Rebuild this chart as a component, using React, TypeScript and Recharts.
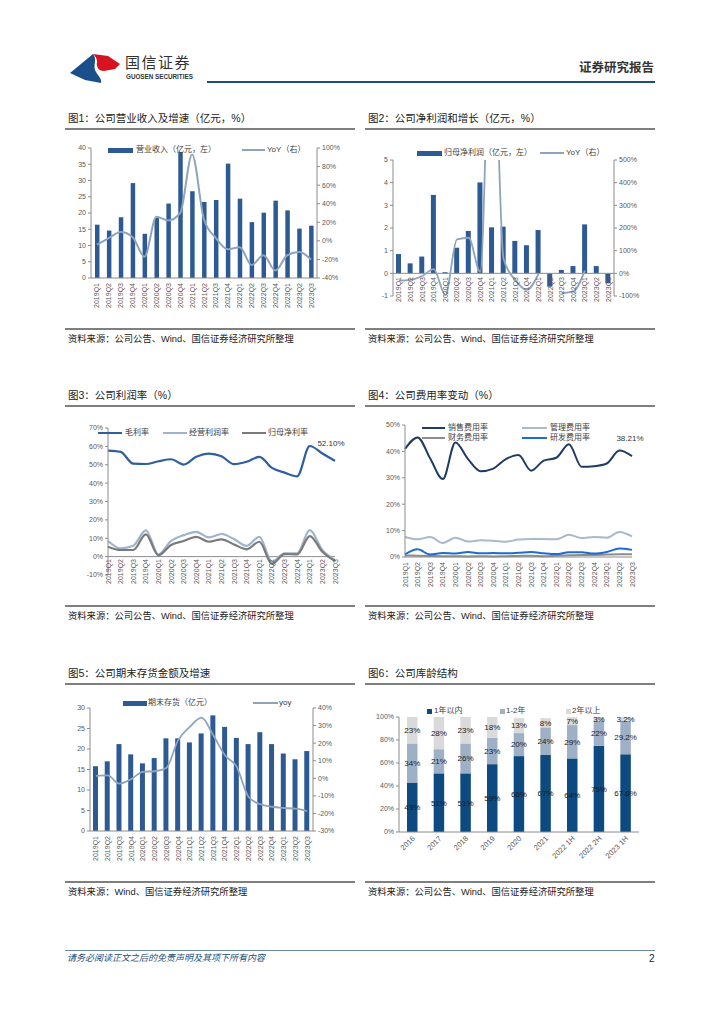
import React from "react";
import { ComposedChart, Bar, Line, XAxis, YAxis, ReferenceLine, LabelList } from "recharts";

const FONT = '"Liberation Sans", "Noto Sans CJK SC", sans-serif';
const AX = "#8c8c8c";
const TXT = "#595959";
const BAR = "#2e5a94";
const YOY = "#8ea4bc";

const quarters = [
  "2019Q1", "2019Q2", "2019Q3", "2019Q4", "2020Q1", "2020Q2", "2020Q3", "2020Q4",
  "2021Q1", "2021Q2", "2021Q3", "2021Q4", "2022Q1", "2022Q2", "2022Q3", "2022Q4",
  "2023Q1", "2023Q2", "2023Q3",
];

// fig 1: revenue (亿元) and yoy (%)
const revenue = [16.4, 14.6, 18.7, 29.2, 13.6, 18.5, 22.9, 38.8, 26.7, 23.4, 24.0, 35.2, 24.4, 17.2, 20.1, 23.8, 20.8, 15.2, 16.1];
const revenueYoy = [-4, 3, 9.5, 4, -17, 26, 22, 30, 93, 23, 3, -9, -7, -26, -15.5, -32, -15.5, -12, -20];
const revLeftTicks = [0, 5, 10, 15, 20, 25, 30, 35, 40];
const revRightTicks = [-40, -20, 0, 20, 40, 60, 80, 100];

// fig 2: net profit (亿元) and yoy (%)
const netProfit = [0.85, 0.44, 0.74, 3.46, 0.05, 1.13, 1.87, 4.01, 2.03, 2.06, 1.43, 1.24, 1.91, -0.59, 0.15, 0.32, 2.16, 0.32, -0.44];
const netProfitYoy = [-32, -29, -12, 19, -96, 150, 157, 7, 1300, 65, -29, -73, -3, null, -88, -80, 13, null, null];
const npLeftTicks = [-1, 0, 1, 2, 3, 4, 5];
const npRightTicks = [-100, 0, 100, 200, 300, 400, 500];

// fig 3: margins (%)
const grossMargin = [57.7, 57.0, 50.6, 50.4, 51.9, 53.0, 50.1, 54.3, 56.1, 54.6, 50.3, 51.6, 54.3, 48.3, 45.7, 43.7, 60.2, 56.1, 52.1];
const opMargin = [8.5, 4.5, 5.9, 14.3, 1.2, 8.6, 11.7, 13.5, 10.5, 12.3, 9.5, 5.9, 10.8, -2.8, 1.8, 1.8, 14.4, 3.6, -1.9];
const netMargin = [5.4, 3.6, 3.6, 12.1, 0.7, 6.3, 8.5, 10.8, 8.1, 9.4, 6.6, 4.0, 8.1, -4.0, 1.4, 1.2, 11.2, 2.7, -2.4];
const marginTicks = [-10, 0, 10, 20, 30, 40, 50, 60, 70];

// fig 4: expense ratios (%)
const sellingRate = [40.9, 45.3, 37.3, 29.5, 43.4, 37.1, 32.5, 33.5, 37.1, 38.6, 32.7, 36.5, 37.6, 42.7, 34.2, 34.4, 35.4, 40.3, 38.21];
const adminRate = [7.6, 6.7, 7.6, 5.3, 7.3, 5.9, 6.3, 6.2, 5.8, 6.6, 6.8, 6.8, 6.7, 8.4, 7.2, 7.6, 7.3, 9.5, 7.8];
const financeRate = [0.6, 0.5, 0.4, 0.3, 0.3, 0.2, 0.3, 0.2, 0.3, 0.4, 0.5, 0.3, 0.5, 0.7, 0.8, 0.8, 0.9, 1.0, 1.0];
const rdRate = [1.0, 2.9, 0.9, 1.5, 1.3, 1.9, 1.4, 1.5, 1.4, 1.6, 1.9, 1.4, 1.1, 1.8, 1.8, 1.3, 1.9, 3.2, 2.7];
const expenseTicks = [0, 10, 20, 30, 40, 50];

// fig 5: inventory (亿元) and yoy (%)
const inventory = [15.8, 17.0, 21.2, 18.7, 16.5, 17.8, 22.6, 22.6, 21.6, 23.8, 28.2, 25.4, 22.7, 21.2, 24.1, 21.2, 18.9, 17.5, 19.5];
const inventoryYoy = [1.4, 1.6, -3.0, -0.5, 3.7, 4.0, 5.9, 21.6, 29.2, 34.5, 24.5, 13.1, 6.5, -10.5, -14.7, -16.2, -16.9, -17.3, -18.7];
const invLeftTicks = [0, 5, 10, 15, 20, 25, 30];
const invRightTicks = [-30, -20, -10, 0, 10, 20, 30, 40];

// fig 6: inventory age structure (%)
const agePeriods = ["2016", "2017", "2018", "2019", "2020", "2021", "2022 1H", "2022 2H", "2023 1H"];
const within1y = [43, 51, 51, 59, 66, 67, 64, 75, 67.6];
const oneTo2y = [34, 21, 26, 23, 20, 24, 29, 22, 29.2];
const over2y = [23, 28, 23, 18, 13, 8, 7, 3, 3.2];
const ageTicks = [0, 20, 40, 60, 80, 100];

const fig1 = quarters.map((q, i) => ({ q, rev: revenue[i], yoy: revenueYoy[i] }));
const fig2 = quarters.map((q, i) => ({ q, np: netProfit[i], yoy: netProfitYoy[i] }));
const fig3 = quarters.map((q, i) => ({ q, gross: grossMargin[i], op: opMargin[i], net: netMargin[i] }));
const fig4 = quarters.map((q, i) => ({ q, sell: sellingRate[i], admin: adminRate[i], fin: financeRate[i], rd: rdRate[i] }));
const fig5 = quarters.map((q, i) => ({ q, inv: inventory[i], yoy: inventoryYoy[i] }));
const fig6 = agePeriods.map((p, i) => ({ p, a: within1y[i], b: oneTo2y[i], c: over2y[i] }));

const pct = (v: number) => `${v}%`;
const tickStyle = { fontSize: 7, fill: TXT, fontFamily: FONT };

function VTick(props: any) {
  const { x, y, payload, shift = 0 } = props;
  return (
    <text
      transform={`translate(${x},${y + shift}) rotate(-90)`}
      textAnchor="end"
      dominantBaseline="central"
      fontSize={7}
      fill={TXT}
      fontFamily={FONT}
    >
      {payload.value}
    </text>
  );
}

function SlantTick(props: any) {
  const { x, y, payload } = props;
  return (
    <text transform={`translate(${x + 3},${y + 2}) rotate(-45)`} textAnchor="end" fontSize={7.5} fill={TXT} fontFamily={FONT}>
      {payload.value}
    </text>
  );
}

function lastLabel(count: number, dx: number, dy: number) {
  return (p: any) => {
    if (p.index !== count - 1) return null;
    return (
      <text x={p.x + dx} y={p.y + dy} textAnchor="middle" fontSize={8} fill="#333" fontFamily={FONT}>
        {Number(p.value).toFixed(2)}%
      </text>
    );
  };
}

type LegItem = { label: string; kind: "bar" | "line" | "square"; color: string; x: number; y: number; w?: number; tx: number };

function Leg({ items }: { items: LegItem[] }) {
  return (
    <>
      {items.map((it) => (
        <React.Fragment key={it.label}>
          <div
            style={{
              position: "absolute",
              left: it.x,
              top: it.kind === "line" ? it.y - 1.2 : it.y - 2.5,
              width: it.kind === "square" ? 5 : it.w ?? 24,
              height: it.kind === "line" ? 2.4 : 5,
              background: it.color,
            }}
          />
          <div
            style={{
              position: "absolute",
              left: it.tx,
              top: it.y - 6,
              height: 12,
              lineHeight: "12px",
              fontSize: 8,
              color: "#404040",
              whiteSpace: "nowrap",
              fontFamily: FONT,
            }}
          >
            {it.label}
          </div>
        </React.Fragment>
      ))}
    </>
  );
}

function Frame({ left, top, title, bottom, source }: { left: number; top: number; title: string; bottom: number; source: string }) {
  return (
    <>
      <div style={{ position: "absolute", left: left + 3, top: top - 8, fontSize: 10.5, lineHeight: "14px", color: "#222", fontFamily: FONT, whiteSpace: "nowrap" }}>
        {title}
      </div>
      <div style={{ position: "absolute", left, top: top + 9, width: 290, height: 1.5, background: "#7f7f7f" }} />
      <div style={{ position: "absolute", left, top: bottom, width: 290, height: 1.5, background: "#7f7f7f" }} />
      <div style={{ position: "absolute", left: left + 3, top: bottom + 5, fontSize: 9.3, lineHeight: "13px", color: "#222", fontFamily: FONT, whiteSpace: "nowrap" }}>
        {source}
      </div>
    </>
  );
}

const SRC = "资料来源：公司公告、Wind、国信证券经济研究所整理";

export default function App() {
  return (
    <div style={{ position: "absolute", left: 0, top: 0, width: 724, height: 1024, background: "#fff", fontFamily: FONT }}>
      {/* header */}
      <svg style={{ position: "absolute", left: 68, top: 52 }} width={56} height={34}>
        <path d="M2,21 L25,2 C30,8 24,14 28,20 C31,25 34,27 33,31 L17,28 Z" fill="#1b4f8a" />
        <path d="M25,2 L40,4 L52,12 L47,17 L36,19 C30,19 28,14 29,10 C29,6 27,4 25,2 Z" fill="#d7141e" />
      </svg>
      <div style={{ position: "absolute", left: 125, top: 53, fontSize: 15, lineHeight: "20px", color: "#333", letterSpacing: 1.5 }}>国信证券</div>
      <div style={{ position: "absolute", left: 126, top: 73, fontSize: 6.3, lineHeight: "8px", color: "#333", fontWeight: 700, whiteSpace: "nowrap" }}>
        GUOSEN SECURITIES
      </div>
      <div style={{ position: "absolute", left: 207, top: 81, width: 448, height: 2, background: "#1f4e79" }} />
      <div style={{ position: "absolute", left: 579, top: 60, fontSize: 12.5, lineHeight: "16px", color: "#333", fontWeight: 700, whiteSpace: "nowrap" }}>
        证券研究报告
      </div>

      {/* row 1 */}
      <Frame left={65} top={119} title="图1：公司营业收入及增速（亿元，%）" bottom={328} source={SRC} />
      <Frame left={365} top={119} title="图2：公司净利润和增长（亿元，%）" bottom={328} source={SRC} />

      <div style={{ position: "absolute", left: 65, top: 135 }}>
        <ComposedChart width={290} height={190} data={fig1} margin={{ top: 13, right: 8, bottom: 0, left: 0 }}>
          <XAxis dataKey="q" interval={0} height={47} tickLine={false} tickSize={3} tickMargin={2} axisLine={{ stroke: AX }} tick={<VTick />} />
          <YAxis yAxisId="l" width={26} domain={[0, 40]} ticks={revLeftTicks} tick={tickStyle} tickSize={3} axisLine={{ stroke: AX }} tickLine={{ stroke: AX }} />
          <YAxis yAxisId="r" orientation="right" width={30} domain={[-40, 100]} ticks={revRightTicks} tickFormatter={pct} tick={tickStyle} tickSize={3} axisLine={{ stroke: AX }} tickLine={{ stroke: AX }} />
          <Bar yAxisId="l" dataKey="rev" fill={BAR} barSize={4.5} isAnimationActive={false} />
          <Line yAxisId="r" type="monotone" dataKey="yoy" stroke={YOY} strokeWidth={2} dot={false} isAnimationActive={false} />
        </ComposedChart>
      </div>
      <Leg
        items={[
          { label: "营业收入（亿元，左）", kind: "bar", color: BAR, x: 108, y: 150, w: 25, tx: 136 },
          { label: "YoY（右）", kind: "line", color: YOY, x: 242, y: 150, w: 23, tx: 267 },
        ]}
      />

      <div style={{ position: "absolute", left: 362, top: 140 }}>
        <ComposedChart width={293} height={185} data={fig2} margin={{ top: 20, right: 11, bottom: 0, left: 0 }}>
          <XAxis dataKey="q" interval={0} height={29} tickLine={false} tickSize={3} tickMargin={2} axisLine={false} tick={<VTick shift={-24} />} />
          <YAxis yAxisId="l" width={31} domain={[-1, 5]} ticks={npLeftTicks} tick={tickStyle} tickSize={3} axisLine={{ stroke: AX }} tickLine={{ stroke: AX }} />
          <YAxis yAxisId="r" orientation="right" width={30} domain={[-100, 500]} allowDataOverflow ticks={npRightTicks} tickFormatter={pct} tick={tickStyle} tickSize={3} axisLine={{ stroke: AX }} tickLine={{ stroke: AX }} />
          <ReferenceLine yAxisId="l" y={0} stroke={AX} />
          <Bar yAxisId="l" dataKey="np" fill={BAR} barSize={5} isAnimationActive={false} />
          <Line yAxisId="r" type="monotone" dataKey="yoy" stroke={YOY} strokeWidth={1.8} dot={false} connectNulls={false} isAnimationActive={false} />
        </ComposedChart>
      </div>
      <Leg
        items={[
          { label: "归母净利润（亿元，左）", kind: "bar", color: BAR, x: 417, y: 153, w: 25, tx: 444 },
          { label: "YoY（右）", kind: "line", color: YOY, x: 540, y: 153, w: 24, tx: 566 },
        ]}
      />

      {/* row 2 */}
      <Frame left={65} top={396} title="图3：公司利润率（%）" bottom={605} source={SRC} />
      <Frame left={365} top={396} title="图4：公司费用率变动（%）" bottom={605} source={SRC} />

      <div style={{ position: "absolute", left: 65, top: 410 }}>
        <ComposedChart width={290} height={190} data={fig3} margin={{ top: 18, right: 20, bottom: 0, left: 0 }}>
          <XAxis dataKey="q" interval={0} height={25} tickLine={false} tickSize={3} tickMargin={2} axisLine={false} tick={<VTick shift={-21} />} />
          <YAxis width={43} domain={[-10, 70]} ticks={marginTicks} tickFormatter={pct} tick={tickStyle} tickSize={3} axisLine={{ stroke: AX }} tickLine={{ stroke: AX }} />
          <ReferenceLine y={0} stroke={AX} />
          <Line type="monotone" dataKey="gross" stroke="#2f5f9e" strokeWidth={2.2} dot={false} isAnimationActive={false}>
            <LabelList dataKey="gross" content={lastLabel(quarters.length, -4, -15)} />
          </Line>
          <Line type="monotone" dataKey="op" stroke="#9eb4cc" strokeWidth={2.2} dot={false} isAnimationActive={false} />
          <Line type="monotone" dataKey="net" stroke="#7a7a7a" strokeWidth={2.2} dot={false} isAnimationActive={false} />
        </ComposedChart>
      </div>
      <Leg
        items={[
          { label: "毛利率", kind: "line", color: "#2f5f9e", x: 98, y: 433, w: 24, tx: 125 },
          { label: "经营利润率", kind: "line", color: "#9eb4cc", x: 163, y: 433, w: 24, tx: 189 },
          { label: "归母净利率", kind: "line", color: "#7a7a7a", x: 242, y: 433, w: 24, tx: 268 },
        ]}
      />

      <div style={{ position: "absolute", left: 362, top: 410 }}>
        <ComposedChart width={293} height={182} data={fig4} margin={{ top: 15, right: 23, bottom: 0, left: 0 }}>
          <XAxis dataKey="q" interval={0} height={35} tickLine={false} tickSize={3} tickMargin={2} axisLine={{ stroke: AX }} tick={<VTick />} />
          <YAxis width={43} domain={[0, 50]} ticks={expenseTicks} tickFormatter={pct} tick={tickStyle} tickSize={3} axisLine={{ stroke: AX }} tickLine={{ stroke: AX }} />
          <Line type="monotone" dataKey="sell" stroke="#1f3b63" strokeWidth={2} dot={false} isAnimationActive={false}>
            <LabelList dataKey="sell" content={lastLabel(quarters.length, -2, -15)} />
          </Line>
          <Line type="monotone" dataKey="admin" stroke="#a9b8ca" strokeWidth={2} dot={false} isAnimationActive={false} />
          <Line type="monotone" dataKey="fin" stroke="#8c8c8c" strokeWidth={2} dot={false} isAnimationActive={false} />
          <Line type="monotone" dataKey="rd" stroke="#1f6bd1" strokeWidth={2} dot={false} isAnimationActive={false} />
        </ComposedChart>
      </div>
      <Leg
        items={[
          { label: "销售费用率", kind: "line", color: "#1f3b63", x: 422, y: 428, w: 23, tx: 448 },
          { label: "管理费用率", kind: "line", color: "#a9b8ca", x: 522, y: 428, w: 25, tx: 550 },
          { label: "财务费用率", kind: "line", color: "#8c8c8c", x: 422, y: 438, w: 23, tx: 448 },
          { label: "研发费用率", kind: "line", color: "#1f6bd1", x: 522, y: 438, w: 25, tx: 550 },
        ]}
      />

      {/* row 3 */}
      <Frame left={65} top={674} title="图5：公司期末存货金额及增速" bottom={881} source="资料来源：Wind、国信证券经济研究所整理" />
      <Frame left={365} top={674} title="图6：公司库龄结构" bottom={881} source={SRC} />

      <div style={{ position: "absolute", left: 65, top: 690 }}>
        <ComposedChart width={290} height={176} data={fig5} margin={{ top: 18, right: 12, bottom: 0, left: 0 }}>
          <XAxis dataKey="q" interval={0} height={35} tickLine={false} tickSize={3} tickMargin={2} axisLine={{ stroke: AX }} tick={<VTick />} />
          <YAxis yAxisId="l" width={25} domain={[0, 30]} ticks={invLeftTicks} tick={tickStyle} tickSize={3} axisLine={{ stroke: AX }} tickLine={{ stroke: AX }} />
          <YAxis yAxisId="r" orientation="right" width={30} domain={[-30, 40]} ticks={invRightTicks} tickFormatter={pct} tick={tickStyle} tickSize={3} axisLine={{ stroke: AX }} tickLine={{ stroke: AX }} />
          <Bar yAxisId="l" dataKey="inv" fill={BAR} barSize={5} isAnimationActive={false} />
          <Line yAxisId="r" type="monotone" dataKey="yoy" stroke={YOY} strokeWidth={1.8} dot={false} isAnimationActive={false} />
        </ComposedChart>
      </div>
      <Leg
        items={[
          { label: "期末存货（亿元）", kind: "bar", color: BAR, x: 123, y: 703, w: 24, tx: 148 },
          { label: "yoy", kind: "line", color: YOY, x: 253, y: 703, w: 25, tx: 279 },
        ]}
      />

      <div style={{ position: "absolute", left: 362, top: 700 }}>
        <ComposedChart width={293} height={172} data={fig6} margin={{ top: 17, right: 16, bottom: 0, left: 0 }}>
          <XAxis dataKey="p" interval={0} height={40} tickLine={false} tickSize={3} tickMargin={2} axisLine={{ stroke: AX }} tick={<SlantTick />} />
          <YAxis width={37} domain={[0, 100]} ticks={ageTicks} tickFormatter={pct} tick={tickStyle} tickSize={3} axisLine={{ stroke: AX }} tickLine={{ stroke: AX }} />
          {[
            { k: "a", c: "#0d4a80" },
            { k: "b", c: "#9db0c6" },
            { k: "c", c: "#dadada" },
          ].map((s) => (
            <Bar key={s.k} dataKey={s.k} stackId="age" fill={s.c} barSize={10.5} isAnimationActive={false}>
              <LabelList
                dataKey={s.k}
                position="center"
                formatter={(v: any) => (Number.isInteger(v) ? `${v}%` : `${Number(v).toFixed(1)}%`)}
                style={{ fontSize: 8, fill: "#1a1a1a", fontFamily: FONT }}
              />
            </Bar>
          ))}
        </ComposedChart>
      </div>
      <Leg
        items={[
          { label: "1年以内", kind: "square", color: "#0d4a80", x: 427, y: 711, tx: 434 },
          { label: "1-2年", kind: "square", color: "#9db0c6", x: 500, y: 711, tx: 506 },
          { label: "2年以上", kind: "square", color: "#dadada", x: 566, y: 711, tx: 572 },
        ]}
      />

      {/* footer */}
      <div style={{ position: "absolute", left: 65, top: 950, width: 590, height: 1, background: "#6b8ba4" }} />
      <div style={{ position: "absolute", left: 67, top: 952, fontSize: 9, lineHeight: "13px", color: "#1f4e79", fontStyle: "italic", whiteSpace: "nowrap" }}>
        请务必阅读正文之后的免责声明及其项下所有内容
      </div>
      <div style={{ position: "absolute", left: 649, top: 952, fontSize: 10, lineHeight: "13px", color: "#222" }}>2</div>
    </div>
  );
}
